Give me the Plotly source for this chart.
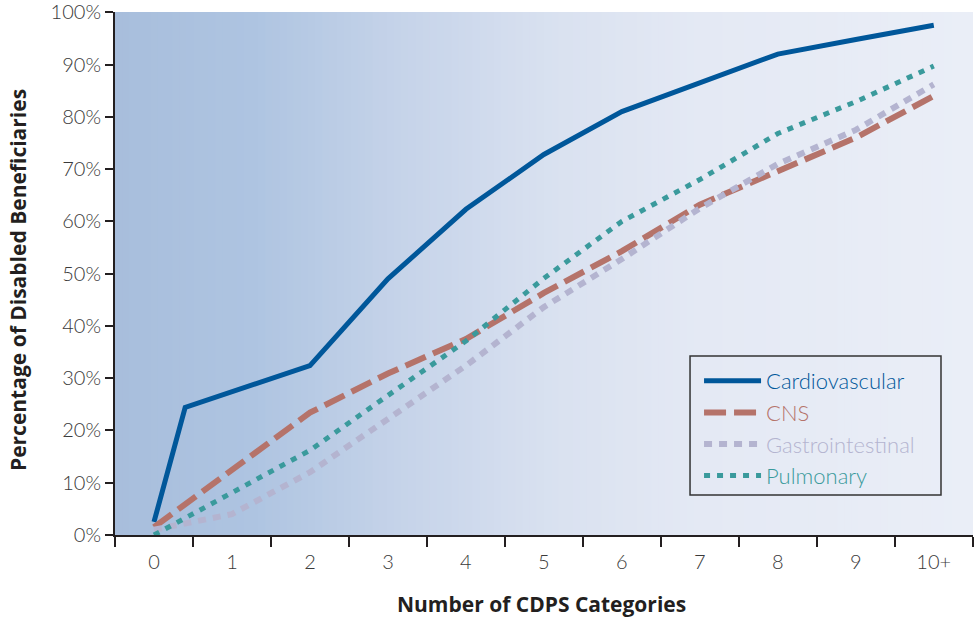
import plotly.graph_objects as go

# category labels on the x axis
categories = ["0", "1", "2", "3", "4", "5", "6", "7", "8", "9", "10+"]
cat_pos = list(range(len(categories)))

# cardiovascular has an extra vertex just after 0
cardio_x = [0, 0.4, 2, 3, 4, 5, 6, 7, 8, 9, 10]
cardio = [2.5, 24.4, 32.4, 49.0, 62.3, 72.8, 81.0, 86.5, 92.0, 94.8, 97.5]
cns = [1.5, 12.5, 23.4, 30.9, 37.5, 46.3, 54.3, 63.2, 69.5, 76.0, 84.0]
gastro = [1.0, 4.0, 12.0, 22.3, 32.4, 43.6, 52.8, 62.5, 71.0, 77.5, 86.2]
pulm = [0.0, 8.0, 16.2, 26.7, 37.1, 49.1, 60.0, 68.0, 76.8, 82.9, 89.7]

ytick_vals = list(range(0, 101, 10))
ytick_text = [f"{v}%" for v in ytick_vals]

COLORS = {
    'cardio': '#00579A',
    'cns': '#B5736A',
    'gastro': '#B4B4D0',
    'pulm': '#3A9A9C',
    'axis': '#231F20',
    'ticktext': '#3A3A3A',
}

TICK_FONT = dict(family="Lato, sans-serif", size=20, weight=300, color=COLORS['ticktext'])
TITLE_FONT = dict(family="Open Sans, sans-serif", size=21, color=COLORS['axis'])


def legend_name(text, color):
    return f"<span style='color:{color}'>{text}</span>"


fig = go.Figure()

fig.add_trace(go.Scatter(
    x=cardio_x, y=cardio, mode="lines",
    name=legend_name("Cardiovascular", COLORS['cardio']),
    line=dict(color=COLORS['cardio'], width=5),
))
fig.add_trace(go.Scatter(
    x=cat_pos, y=cns, mode="lines",
    name=legend_name("CNS", COLORS['cns']),
    line=dict(color=COLORS['cns'], width=6, dash="22px,8px"),
))
fig.add_trace(go.Scatter(
    x=cat_pos, y=gastro, mode="lines",
    name=legend_name("Gastrointestinal", COLORS['gastro']),
    line=dict(color=COLORS['gastro'], width=6, dash="8px,7px"),
))
fig.add_trace(go.Scatter(
    x=cat_pos, y=pulm, mode="lines",
    name=legend_name("Pulmonary", COLORS['pulm']),
    line=dict(color=COLORS['pulm'], width=5, dash="6px,7px"),
))

# horizontal gradient background built from thin strips
stops = [
    (0.00, (168, 190, 220)),
    (0.16, (174, 196, 225)),
    (0.33, (197, 211, 233)),
    (0.51, (217, 225, 240)),
    (0.68, (228, 233, 244)),
    (1.00, (234, 238, 247)),
]


def grad_color(t):
    for (t0, c0), (t1, c1) in zip(stops[:-1], stops[1:]):
        if t0 <= t <= t1:
            f = (t - t0) / (t1 - t0)
            return "rgb(%d,%d,%d)" % tuple(round(a + (b - a) * f) for a, b in zip(c0, c1))
    return "rgb(%d,%d,%d)" % stops[-1][1]


n_strips = 120
shapes = []
for i in range(n_strips):
    shapes.append(dict(
        type="rect", xref="x domain", yref="y domain",
        x0=i / n_strips, x1=min(1, (i + 1.6) / n_strips), y0=0, y1=1,
        fillcolor=grad_color((i + 0.5) / n_strips),
        line=dict(width=0), layer="below",
    ))

# legend frame drawn separately so the padding around the entries matches
shapes.append(dict(
    type="rect", xref="paper", yref="paper",
    x0=0.6702, x1=0.9627, y0=0.0765, y1=0.3423,
    line=dict(color="#333333", width=1.5), fillcolor="rgba(0,0,0,0)",
))

# axis titles as annotations so they sit exactly where the original has them
annotations = [
    dict(text="<b>Number of CDPS Categories</b>", xref="paper", yref="paper",
         x=0.497, y=-0.1319, xanchor="center", yanchor="middle",
         showarrow=False, font=TITLE_FONT),
    dict(text="<b>Percentage of Disabled Beneficiaries</b>", xref="paper", yref="paper",
         x=-0.113, y=0.4876, xanchor="center", yanchor="middle", textangle=-90,
         showarrow=False, font=TITLE_FONT),
]

fig.update_layout(
    width=976, height=617,
    margin=dict(l=115, r=3, t=12, b=82),
    paper_bgcolor="white",
    plot_bgcolor="#E9EDF6",
    shapes=shapes,
    annotations=annotations,
    showlegend=True,
    legend=dict(
        x=0.6807, y=0.3346, xanchor="left", yanchor="top",
        bgcolor="rgba(0,0,0,0)", borderwidth=0,
        font=dict(family="Lato, sans-serif", size=22, weight=300),
        itemwidth=57, tracegroupgap=0,
    ),
    xaxis=dict(
        range=[-0.5, 10.503], automargin=False,
        tickvals=cat_pos, ticktext=categories,
        ticks="", tickfont=TICK_FONT, ticklabeloverflow="allow",
        ticklabelstandoff=8,
        minor=dict(tick0=-0.5, dtick=1, ticks="outside", ticklen=10,
                   tickwidth=2, tickcolor=COLORS['axis']),
        showgrid=False, zeroline=False,
        showline=True, linecolor=COLORS['axis'], linewidth=2,
    ),
    yaxis=dict(
        range=[0, 100.05], automargin=False,
        tickvals=ytick_vals, ticktext=ytick_text,
        ticks="outside", ticklen=8, tickwidth=2, tickcolor=COLORS['axis'],
        tickfont=TICK_FONT, ticklabeloverflow="allow",
        showgrid=False, zeroline=False,
        showline=True, linecolor=COLORS['axis'], linewidth=2,
    ),
    yaxis2=dict(
        overlaying="y", anchor="x", side="left", automargin=False,
        range=[0, 100.05], tickvals=ytick_vals,
        ticks="inside", ticklen=14, tickwidth=2, tickcolor=COLORS['axis'],
        showticklabels=False, showgrid=False, zeroline=False, showline=False,
    ),
)

fig.write_html("out.html", config={"displayModeBar": False},
               post_script="document.body.style.margin='0';")
